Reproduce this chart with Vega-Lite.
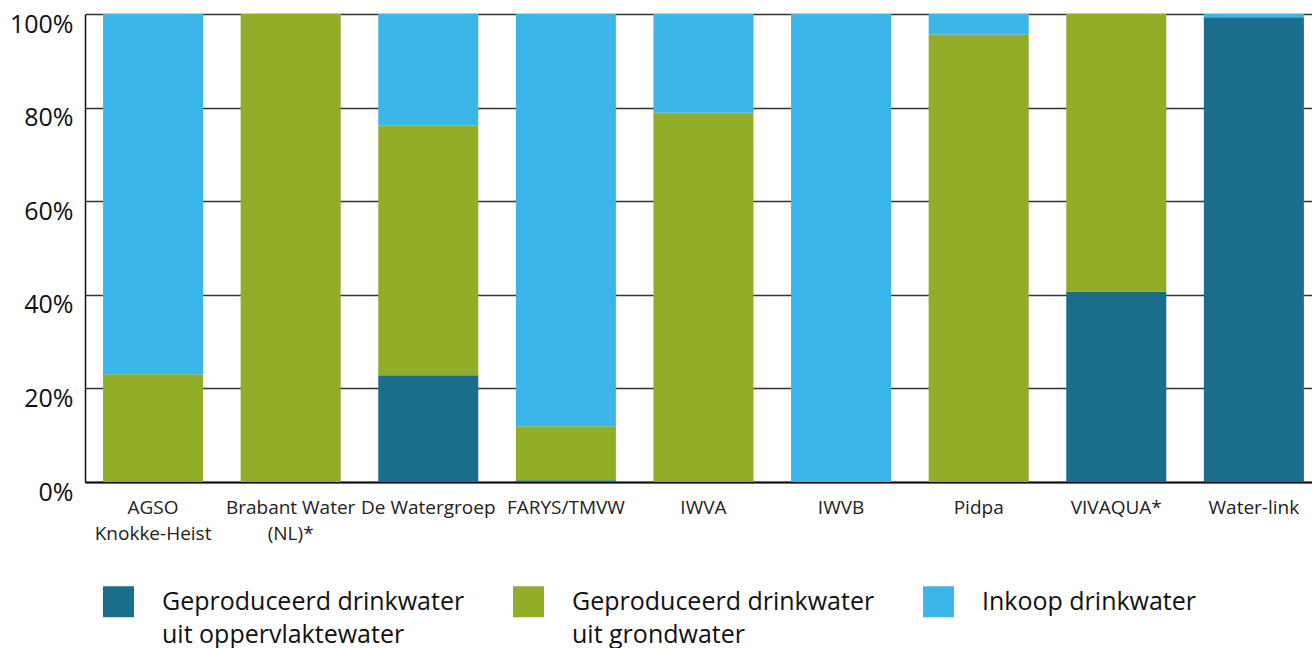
{
  "$schema": "https://vega.github.io/schema/vega-lite/v6.json",
  "width": 1227,
  "height": 468,
  "autosize": {"type": "none"},
  "padding": {"left": 85, "top": 14, "right": 0, "bottom": 166},
  "config": {"view": {"stroke": null}, "font": "Open Sans", "style": {"guide-label": {"lineHeight": 33}}},
  "data": {
    "values": [
      {"company": "AGSO Knokke-Heist", "category": "Geproduceerd drinkwater uit oppervlaktewater", "value": 0},
      {"company": "AGSO Knokke-Heist", "category": "Geproduceerd drinkwater uit grondwater", "value": 23.0},
      {"company": "AGSO Knokke-Heist", "category": "Inkoop drinkwater", "value": 77.0},
      {"company": "Brabant Water (NL)*", "category": "Geproduceerd drinkwater uit oppervlaktewater", "value": 0},
      {"company": "Brabant Water (NL)*", "category": "Geproduceerd drinkwater uit grondwater", "value": 100},
      {"company": "Brabant Water (NL)*", "category": "Inkoop drinkwater", "value": 0},
      {"company": "De Watergroep", "category": "Geproduceerd drinkwater uit oppervlaktewater", "value": 22.8},
      {"company": "De Watergroep", "category": "Geproduceerd drinkwater uit grondwater", "value": 53.3},
      {"company": "De Watergroep", "category": "Inkoop drinkwater", "value": 23.9},
      {"company": "FARYS/TMVW", "category": "Geproduceerd drinkwater uit oppervlaktewater", "value": 0.4},
      {"company": "FARYS/TMVW", "category": "Geproduceerd drinkwater uit grondwater", "value": 11.5},
      {"company": "FARYS/TMVW", "category": "Inkoop drinkwater", "value": 88.1},
      {"company": "IWVA", "category": "Geproduceerd drinkwater uit oppervlaktewater", "value": 0},
      {"company": "IWVA", "category": "Geproduceerd drinkwater uit grondwater", "value": 78.9},
      {"company": "IWVA", "category": "Inkoop drinkwater", "value": 21.1},
      {"company": "IWVB", "category": "Geproduceerd drinkwater uit oppervlaktewater", "value": 0},
      {"company": "IWVB", "category": "Geproduceerd drinkwater uit grondwater", "value": 0},
      {"company": "IWVB", "category": "Inkoop drinkwater", "value": 100},
      {"company": "Pidpa", "category": "Geproduceerd drinkwater uit oppervlaktewater", "value": 0},
      {"company": "Pidpa", "category": "Geproduceerd drinkwater uit grondwater", "value": 95.6},
      {"company": "Pidpa", "category": "Inkoop drinkwater", "value": 4.4},
      {"company": "VIVAQUA*", "category": "Geproduceerd drinkwater uit oppervlaktewater", "value": 40.7},
      {"company": "VIVAQUA*", "category": "Geproduceerd drinkwater uit grondwater", "value": 59.3},
      {"company": "VIVAQUA*", "category": "Inkoop drinkwater", "value": 0},
      {"company": "Water-link", "category": "Geproduceerd drinkwater uit oppervlaktewater", "value": 99.3},
      {"company": "Water-link", "category": "Geproduceerd drinkwater uit grondwater", "value": 0},
      {"company": "Water-link", "category": "Inkoop drinkwater", "value": 0.7}
    ]
  },
  "transform": [
    {
      "lookup": "category",
      "from": {
        "data": {
          "values": [
            {"category": "Geproduceerd drinkwater uit oppervlaktewater", "stackOrder": 1},
            {"category": "Geproduceerd drinkwater uit grondwater", "stackOrder": 2},
            {"category": "Inkoop drinkwater", "stackOrder": 3}
          ]
        },
        "key": "category",
        "fields": ["stackOrder"]
      }
    }
  ],
  "mark": {"type": "bar"},
  "encoding": {
    "x": {
      "field": "company",
      "type": "nominal",
      "sort": null,
      "scale": {"paddingInner": 0.273, "paddingOuter": 0.095, "align": 0.69},
      "axis": {
        "title": null,
        "labelAngle": 0,
        "labelFontSize": 19,
        "labelPadding": 16,
        "labelColor": "#222",
        "labelLineHeight": 26,
        "ticks": false,
        "domainColor": "#111",
        "domainWidth": 2,
        "labelExpr": "datum.label == 'AGSO Knokke-Heist' ? ['AGSO', 'Knokke-Heist'] : datum.label == 'Brabant Water (NL)*' ? ['Brabant Water', '(NL)*'] : datum.label"
      }
    },
    "y": {
      "field": "value",
      "type": "quantitative",
      "stack": "zero",
      "scale": {"domain": [0, 100], "nice": false},
      "axis": {
        "title": null,
        "values": [0, 20, 40, 60, 80, 100],
        "labelExpr": "datum.value + '%'",
        "labelFontSize": 25,
        "labelColor": "#111",
        "labelPadding": 12,
        "labelOffset": 10,
        "labelLineHeight": 25,
        "ticks": false,
        "domainColor": "#111",
        "domainWidth": 1.5,
        "gridColor": "#333",
        "gridWidth": 1.5
      }
    },
    "order": {"field": "stackOrder", "type": "quantitative", "sort": "ascending"},
    "color": {
      "field": "category",
      "type": "nominal",
      "sort": ["Geproduceerd drinkwater uit oppervlaktewater", "Geproduceerd drinkwater uit grondwater", "Inkoop drinkwater"],
      "scale": {
        "domain": ["Geproduceerd drinkwater uit oppervlaktewater", "Geproduceerd drinkwater uit grondwater", "Inkoop drinkwater"],
        "range": ["#1a6d8b", "#92ad27", "#3cb6e9"]
      },
      "legend": {
        "orient": "none",
        "legendX": 18,
        "legendY": 572,
        "direction": "horizontal",
        "columns": 3,
        "title": null,
        "padding": 0,
        "symbolType": "square",
        "symbolSize": 961,
        "symbolStrokeWidth": 0,
        "symbolOpacity": 1,
        "labelFontSize": 25,
        "labelColor": "#111",
        "labelOffset": 28,
        "labelLimit": 400,
        "labelBaseline": "middle",
        "columnPadding": 48,
        "labelExpr": "indexof(datum.label, ' uit ') > 0 ? [substring(datum.label, 0, indexof(datum.label, ' uit ')), substring(datum.label, indexof(datum.label, ' uit ') + 1)] : [datum.label, '']"
      }
    }
  }
}
